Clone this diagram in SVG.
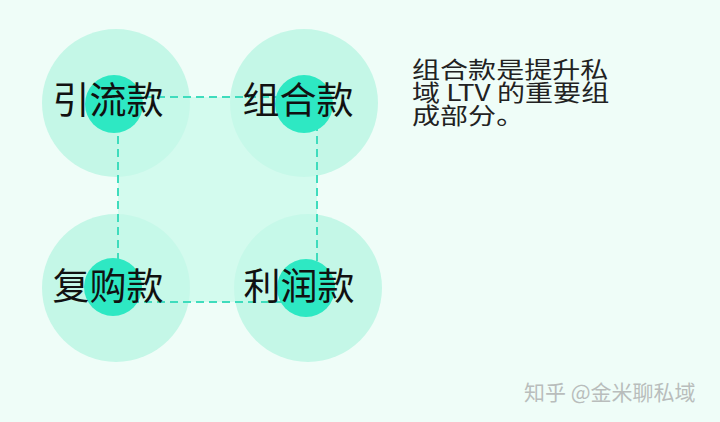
<svg xmlns="http://www.w3.org/2000/svg" width="720" height="422" viewBox="0 0 720 422">
<style>
.big{fill:#c4f7e7;}
.small{fill:#2ee8c3;}
.lbl{font-family:"Noto Sans CJK SC","Liberation Sans",sans-serif;font-size:37px;fill:#111;text-anchor:middle;}
.desc{font-family:"Noto Sans CJK SC","Liberation Sans",sans-serif;font-size:23px;fill:#222;}
.wm{font-family:"Noto Sans CJK SC","Liberation Sans",sans-serif;font-size:21px;fill:#b9bdbc;}
.dash{fill:none;stroke:#3fdcbd;stroke-width:2;stroke-dasharray:8 5;}
</style>
<rect width="720" height="422" fill="#effdf8"/>
<g id="big-circles">
<circle class="big" cx="116" cy="103" r="74"/>
<circle class="big" cx="304" cy="103" r="74"/>
<circle class="big" cx="116" cy="288" r="74"/>
<circle class="big" cx="308" cy="288" r="74"/>
</g>
<rect x="118" y="97" width="199" height="205" fill="#c8f9ea" fill-opacity="0.7"/>
<g id="connectors">
<line class="dash" x1="118" y1="97" x2="317" y2="97"/>
<line class="dash" x1="118" y1="97" x2="118" y2="302"/>
<line class="dash" x1="317" y1="97" x2="317" y2="302"/>
<line class="dash" x1="118" y1="302" x2="317" y2="302"/>
</g>
<g id="node-yinliu">
<circle class="small" cx="114" cy="104" r="29"/>
<text class="lbl" x="108" y="114">引流款</text>
</g>
<g id="node-zuhe">
<circle class="small" cx="304" cy="104" r="29"/>
<text class="lbl" x="298" y="114">组合款</text>
</g>
<g id="node-fugou">
<circle class="small" cx="113" cy="287" r="29"/>
<text class="lbl" x="108" y="300">复购款</text>
</g>
<g id="node-lirun">
<circle class="small" cx="306" cy="288" r="29"/>
<text class="lbl" x="299" y="300">利润款</text>
</g>
<g id="description" transform="translate(412,0) scale(1.22,1)">
<text class="desc" x="0" y="78">组合款是提升私</text>
<text class="desc" x="0" y="101">域 LTV 的重要组</text>
<text class="desc" x="0" y="124">成部分。</text>
</g>
<text class="wm" x="524" y="400">知乎 @金米聊私域</text>
</svg>
